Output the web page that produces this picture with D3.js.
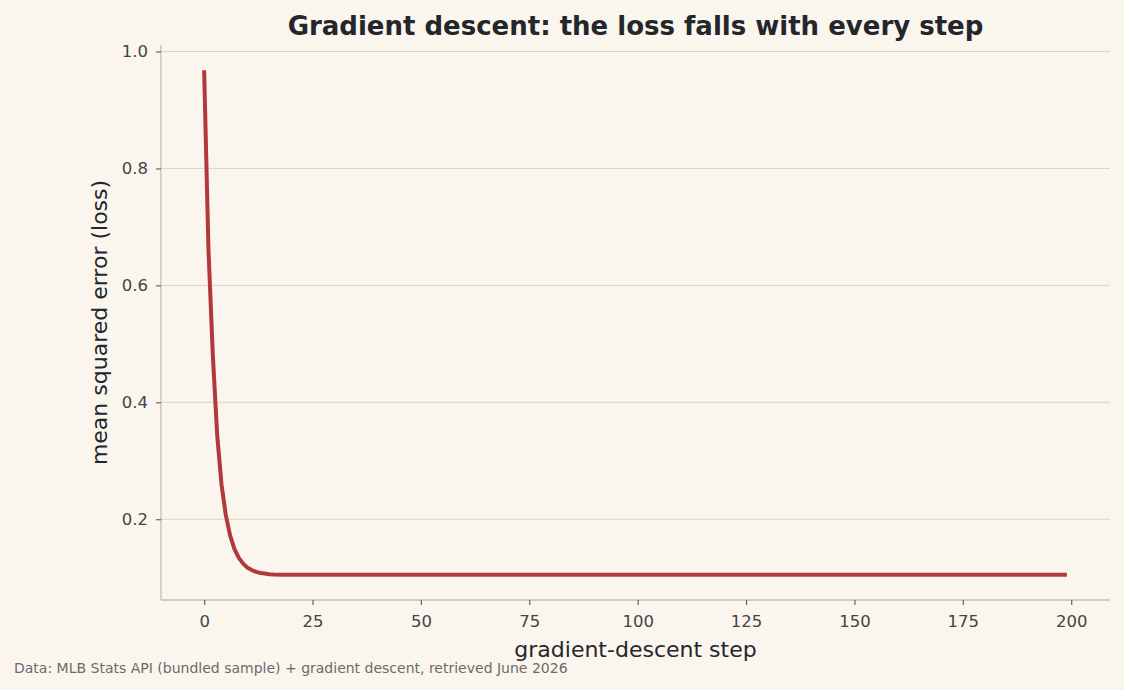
<!DOCTYPE html>
<html>
<head>
<meta charset="utf-8">
<script src="https://cdn.jsdelivr.net/npm/d3@7"></script>
<style>
  body { margin: 0; background: #faf6ee; }
  svg { display: block; font-family: "DejaVu Sans", sans-serif; }
</style>
</head>
<body>
<svg id="chart" width="1124" height="690"></svg>
<script>
// loss at each gradient-descent step (flat after ~20)
var steps = [0, 1, 2, 3, 4, 5, 6, 7, 8, 9, 10, 11, 12, 13, 14, 15, 16, 18, 20, 199];
var losses = [0.968, 0.661, 0.481, 0.345, 0.260, 0.207, 0.172, 0.149, 0.134, 0.124,
              0.117, 0.113, 0.110, 0.108, 0.107, 0.106, 0.1056, 0.1052, 0.105, 0.105];
var xTicks = [0, 25, 50, 75, 100, 125, 150, 175, 200];
var yTicks = [0.2, 0.4, 0.6, 0.8, 1.0];

var svg = d3.select('#chart');
var W = 1124, H = 690;
var margin = {left: 161, right: 14, top: 45, bottom: 90};

svg.append('rect').attr('width', W).attr('height', H).attr('fill', '#faf6ee');

var data = steps.map(function(s, i) { return {step: s, loss: losses[i]}; });

// matplotlib-style 5% padding on both axes
var xMin = d3.min(steps), xMax = d3.max(steps);
var xPad = (xMax - xMin) * 0.05;
var yMin = d3.min(losses), yMax = d3.max(losses);
var yPad = (yMax - yMin) * 0.05;

var x = d3.scaleLinear()
  .domain([xMin - xPad, xMax + xPad])
  .range([margin.left, W - margin.right]);
var y = d3.scaleLinear()
  .domain([yMin - yPad, yMax + yPad])
  .range([H - margin.bottom, margin.top]);

// horizontal grid lines
svg.append('g')
  .selectAll('line')
  .data(yTicks)
  .join('line')
  .attr('x1', margin.left)
  .attr('x2', W - margin.right)
  .attr('y1', function(d) { return y(d); })
  .attr('y2', function(d) { return y(d); })
  .attr('stroke', '#ddd3c0')
  .attr('stroke-width', 1);

var xAxis = svg.append('g')
  .attr('transform', 'translate(0,' + (H - margin.bottom) + ')')
  .call(d3.axisBottom(x).tickValues(xTicks).tickSize(5).tickPadding(10).tickFormat(d3.format('d')));
var yAxis = svg.append('g')
  .attr('transform', 'translate(' + margin.left + ',0)')
  .call(d3.axisLeft(y).tickValues(yTicks).tickSize(5).tickPadding(8).tickFormat(d3.format('.1f')));

[xAxis, yAxis].forEach(function(ax) {
  ax.select('.domain').attr('stroke', '#c8bea9').attr('stroke-width', 1.3);
  ax.selectAll('.tick line').attr('stroke', '#666').attr('stroke-width', 1.2);
  ax.selectAll('.tick text')
    .attr('fill', '#444')
    .style('font-size', '16.5px')
    .style('font-family', '"DejaVu Sans", sans-serif');
});
// matplotlib spines don't have the end caps
xAxis.select('.domain').attr('d', 'M' + margin.left + ',0H' + (W - margin.right));
yAxis.select('.domain').attr('d', 'M0,' + (H - margin.bottom) + 'V' + margin.top);

var line = d3.line()
  .x(function(d) { return x(d.step); })
  .y(function(d) { return y(d.loss); });

svg.append('path')
  .datum(data)
  .attr('d', line)
  .attr('fill', 'none')
  .attr('stroke', '#b3383b')
  .attr('stroke-width', 4)
  .attr('stroke-linejoin', 'round');

var cx = (margin.left + W - margin.right) / 2;

svg.append('text')
  .attr('x', cx).attr('y', 35)
  .attr('text-anchor', 'middle')
  .attr('fill', '#23262b')
  .style('font-size', '26px')
  .style('font-weight', 'bold')
  .text('Gradient descent: the loss falls with every step');

svg.append('text')
  .attr('x', cx).attr('y', 657)
  .attr('text-anchor', 'middle')
  .attr('fill', '#23262b')
  .style('font-size', '22px')
  .text('gradient-descent step');

svg.append('text')
  .attr('transform', 'translate(107,' + ((margin.top + H - margin.bottom) / 2) + ') rotate(-90)')
  .attr('text-anchor', 'middle')
  .attr('fill', '#23262b')
  .style('font-size', '22px')
  .text('mean squared error (loss)');

svg.append('text')
  .attr('x', 14).attr('y', 673)
  .attr('fill', '#6b6b6b')
  .style('font-size', '14px')
  .text('Data: MLB Stats API (bundled sample) + gradient descent, retrieved June 2026');
</script>
</body>
</html>
